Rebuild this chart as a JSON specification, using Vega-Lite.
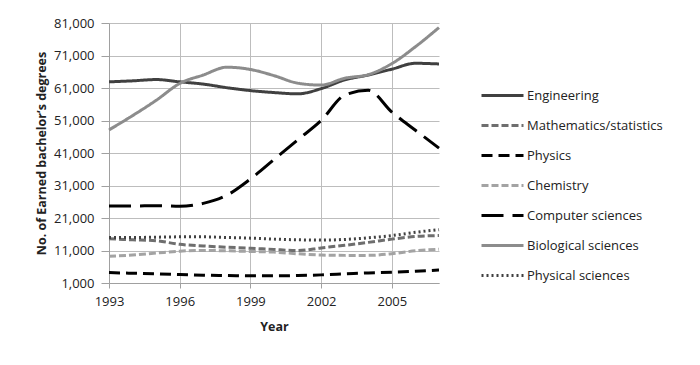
{
  "$schema": "https://vega.github.io/schema/vega-lite/v6.json",
  "width": 330,
  "height": 260,
  "autosize": {"type": "none"},
  "padding": {"left": 109, "top": 23, "right": 261, "bottom": 82},
  "background": "white",
  "data": {"values": [
    {"s":"Engineering","y":1993,"v":62900},{"s":"Engineering","y":1994,"v":63200},{"s":"Engineering","y":1995,"v":63600},{"s":"Engineering","y":1996,"v":62900},{"s":"Engineering","y":1997,"v":62200},{"s":"Engineering","y":1998,"v":61100},{"s":"Engineering","y":1999,"v":60200},{"s":"Engineering","y":2000,"v":59600},{"s":"Engineering","y":2001,"v":59200},{"s":"Engineering","y":2002,"v":60800},{"s":"Engineering","y":2003,"v":63500},{"s":"Engineering","y":2004,"v":65000},{"s":"Engineering","y":2005,"v":66800},{"s":"Engineering","y":2006,"v":68600},{"s":"Engineering","y":2007,"v":68400},
    {"s":"Mathematics/statistics","y":1993,"v":14600},{"s":"Mathematics/statistics","y":1994,"v":14300},{"s":"Mathematics/statistics","y":1995,"v":14000},{"s":"Mathematics/statistics","y":1996,"v":12900},{"s":"Mathematics/statistics","y":1997,"v":12400},{"s":"Mathematics/statistics","y":1998,"v":12000},{"s":"Mathematics/statistics","y":1999,"v":11700},{"s":"Mathematics/statistics","y":2000,"v":11300},{"s":"Mathematics/statistics","y":2001,"v":11000},{"s":"Mathematics/statistics","y":2002,"v":11800},{"s":"Mathematics/statistics","y":2003,"v":12600},{"s":"Mathematics/statistics","y":2004,"v":13500},{"s":"Mathematics/statistics","y":2005,"v":14500},{"s":"Mathematics/statistics","y":2006,"v":15300},{"s":"Mathematics/statistics","y":2007,"v":15600},
    {"s":"Physics","y":1993,"v":4200},{"s":"Physics","y":1994,"v":4000},{"s":"Physics","y":1995,"v":3800},{"s":"Physics","y":1996,"v":3600},{"s":"Physics","y":1997,"v":3400},{"s":"Physics","y":1998,"v":3300},{"s":"Physics","y":1999,"v":3200},{"s":"Physics","y":2000,"v":3200},{"s":"Physics","y":2001,"v":3300},{"s":"Physics","y":2002,"v":3500},{"s":"Physics","y":2003,"v":3800},{"s":"Physics","y":2004,"v":4100},{"s":"Physics","y":2005,"v":4300},{"s":"Physics","y":2006,"v":4600},{"s":"Physics","y":2007,"v":5000},
    {"s":"Chemistry","y":1993,"v":9200},{"s":"Chemistry","y":1994,"v":9600},{"s":"Chemistry","y":1995,"v":10200},{"s":"Chemistry","y":1996,"v":10800},{"s":"Chemistry","y":1997,"v":11000},{"s":"Chemistry","y":1998,"v":10900},{"s":"Chemistry","y":1999,"v":10700},{"s":"Chemistry","y":2000,"v":10500},{"s":"Chemistry","y":2001,"v":10000},{"s":"Chemistry","y":2002,"v":9600},{"s":"Chemistry","y":2003,"v":9500},{"s":"Chemistry","y":2004,"v":9500},{"s":"Chemistry","y":2005,"v":10000},{"s":"Chemistry","y":2006,"v":10900},{"s":"Chemistry","y":2007,"v":11400},
    {"s":"Computer sciences","y":1993,"v":24700},{"s":"Computer sciences","y":1994,"v":24700},{"s":"Computer sciences","y":1995,"v":24800},{"s":"Computer sciences","y":1996,"v":24600},{"s":"Computer sciences","y":1997,"v":25500},{"s":"Computer sciences","y":1998,"v":28000},{"s":"Computer sciences","y":1999,"v":33000},{"s":"Computer sciences","y":2000,"v":39000},{"s":"Computer sciences","y":2001,"v":45000},{"s":"Computer sciences","y":2002,"v":51000},{"s":"Computer sciences","y":2003,"v":58800},{"s":"Computer sciences","y":2004,"v":60300},{"s":"Computer sciences","y":2005,"v":53600},{"s":"Computer sciences","y":2006,"v":48000},{"s":"Computer sciences","y":2007,"v":42500},
    {"s":"Biological sciences","y":1993,"v":48100},{"s":"Biological sciences","y":1994,"v":52500},{"s":"Biological sciences","y":1995,"v":57200},{"s":"Biological sciences","y":1996,"v":62400},{"s":"Biological sciences","y":1997,"v":65000},{"s":"Biological sciences","y":1998,"v":67400},{"s":"Biological sciences","y":1999,"v":66700},{"s":"Biological sciences","y":2000,"v":64800},{"s":"Biological sciences","y":2001,"v":62500},{"s":"Biological sciences","y":2002,"v":61900},{"s":"Biological sciences","y":2003,"v":64000},{"s":"Biological sciences","y":2004,"v":65100},{"s":"Biological sciences","y":2005,"v":68500},{"s":"Biological sciences","y":2006,"v":73700},{"s":"Biological sciences","y":2007,"v":79600},
    {"s":"Physical sciences","y":1993,"v":15000},{"s":"Physical sciences","y":1994,"v":15000},{"s":"Physical sciences","y":1995,"v":15100},{"s":"Physical sciences","y":1996,"v":15200},{"s":"Physical sciences","y":1997,"v":15200},{"s":"Physical sciences","y":1998,"v":15000},{"s":"Physical sciences","y":1999,"v":14800},{"s":"Physical sciences","y":2000,"v":14500},{"s":"Physical sciences","y":2001,"v":14300},{"s":"Physical sciences","y":2002,"v":14200},{"s":"Physical sciences","y":2003,"v":14400},{"s":"Physical sciences","y":2004,"v":14900},{"s":"Physical sciences","y":2005,"v":15600},{"s":"Physical sciences","y":2006,"v":16600},{"s":"Physical sciences","y":2007,"v":17400}
  ]},
  "mark": {"type": "line", "interpolate": "monotone", "strokeWidth": 3, "strokeCap": "butt"},
  "encoding": {
    "x": {"field": "y", "type": "quantitative",
      "scale": {"domain": [1993, 2007], "nice": false, "zero": false},
      "axis": {"values": [1993, 1996, 1999, 2002, 2005], "format": "d", "labelFlush": false, "labelPadding": 7, "title": "Year", "titlePadding": 12}},
    "y": {"field": "v", "type": "quantitative",
      "scale": {"domain": [1000, 81000], "nice": false, "zero": false},
      "axis": {"values": [1000, 11000, 21000, 31000, 41000, 51000, 61000, 71000, 81000], "format": ",d", "labelFlush": false, "tickSize": 8, "labelPadding": 7, "title": "No. of Earned bachelor’s degrees", "titlePadding": 5}},
    "color": {"field": "s", "type": "nominal",
      "sort": ["Engineering","Mathematics/statistics","Physics","Chemistry","Computer sciences","Biological sciences","Physical sciences"],
      "scale": {"domain": ["Engineering","Mathematics/statistics","Physics","Chemistry","Computer sciences","Biological sciences","Physical sciences"],
        "range": ["#404040","#6e6e6e","#000000","#a3a3a3","#000000","#8c8c8c","#404040"]},
      "legend": {"title": null, "orient": "none", "legendX": 371, "legendY": 50, "symbolType": "stroke", "symbolSize": 1764, "symbolStrokeWidth": 3, "rowPadding": -3, "labelOffset": 2}},
    "strokeDash": {"field": "s", "type": "nominal",
      "sort": ["Engineering","Mathematics/statistics","Physics","Chemistry","Computer sciences","Biological sciences","Physical sciences"],
      "scale": {"domain": ["Engineering","Mathematics/statistics","Physics","Chemistry","Computer sciences","Biological sciences","Physical sciences"],
        "range": [[1,0],[7,3],[11,6],[7,3],[22,9],[1,0],[2,3]]}}
  },
  "config": {
    "font": "Open Sans",
    "view": {"stroke": null},
    "axis": {"labelFont": "Open Sans", "labelFontSize": 13, "labelColor": "#222", "titleFont": "Open Sans", "titleFontSize": 12.5, "titleFontWeight": "bold", "titleColor": "#222",
      "domainColor": "#a0a0a0", "tickColor": "#a0a0a0", "gridColor": "#bdbdbd", "grid": true, "tickSize": 5},
    "legend": {"labelFont": "Open Sans", "labelFontSize": 13, "labelColor": "#222"}
  }
}
